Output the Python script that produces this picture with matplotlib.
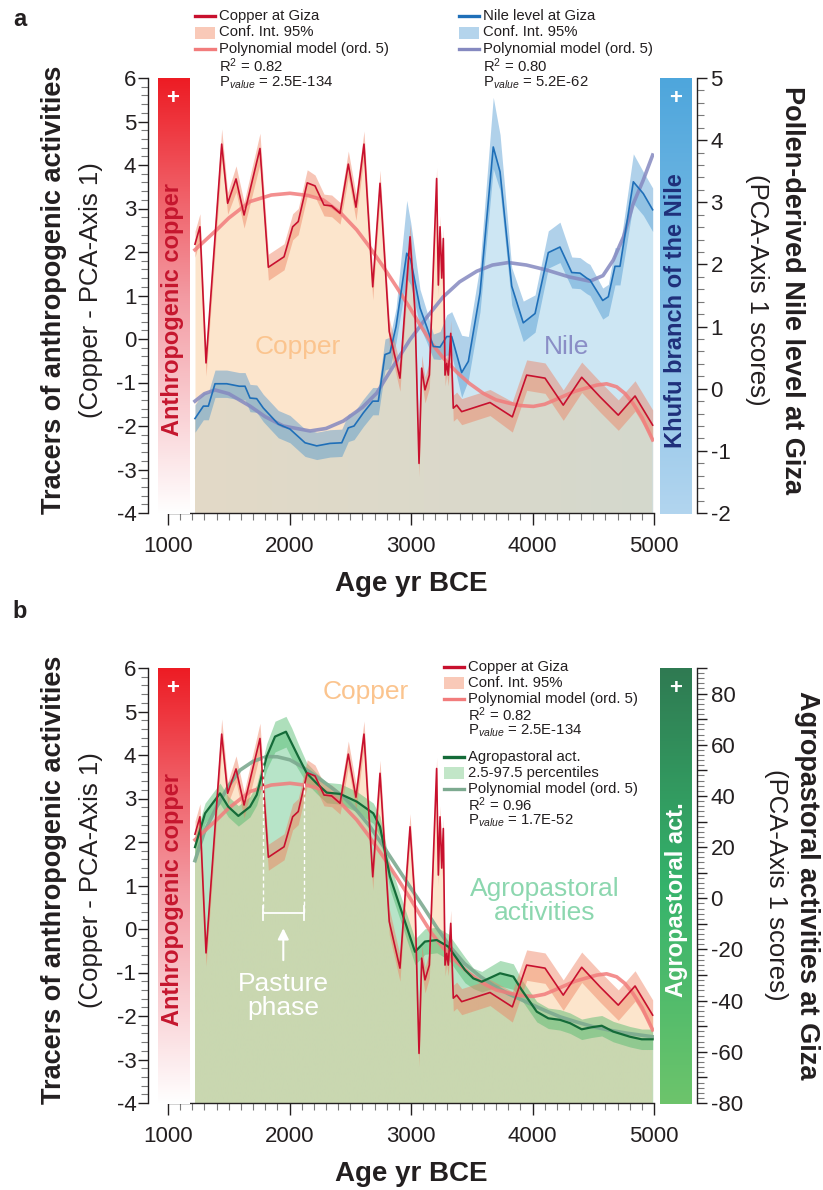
import numpy as np
import matplotlib.pyplot as plt
from matplotlib.lines import Line2D
from matplotlib.patches import Rectangle
from matplotlib.colors import LinearSegmentedColormap
from matplotlib.ticker import MultipleLocator, FuncFormatter

plt.rcParams['font.family'] = ['Liberation Sans', 'DejaVu Sans']
plt.rcParams['mathtext.fontset'] = 'custom'
plt.rcParams['mathtext.rm'] = 'Liberation Sans'
plt.rcParams['mathtext.it'] = 'Liberation Sans:italic'
plt.rcParams['axes.unicode_minus'] = False

# ---- Copper at Giza (left axis, PCA-Axis 1) ----
cu_year = [1222, 1263, 1313, 1442, 1491, 1560, 1626, 1757, 1826, 1955,
           2026, 2072, 2146, 2210, 2284, 2347, 2416, 2484, 2547, 2613,
           2685, 2745, 2821, 2909, 2992, 3033, 3066, 3088, 3115, 3151,
           3211, 3225, 3239, 3253, 3266, 3280, 3294, 3307, 3327, 3348,
           3376, 3417, 3650, 3834, 3952, 4103, 4253, 4405, 4556, 4706,
           4844, 4989]
cu_val = [2.18, 2.58, -0.55, 4.48, 3.12, 3.68, 2.85, 4.38, 1.65, 1.89,
          2.58, 2.70, 3.59, 3.52, 3.08, 3.06, 2.89, 4.02, 3.03, 4.48,
          1.20, 3.58, 0.17, -0.90, 2.35, 0.61, -2.86, -0.67, -1.17, -0.83,
          3.69, 1.24, 2.58, 1.40, 2.31, -0.83, -0.56, -0.83, 0.13, -1.59,
          -1.52, -1.67, -1.46, -1.79, -0.83, -0.90, -1.52, -0.88, -1.33, -1.75,
          -1.31, -1.98]
cu_ci = [0.30, 0.30, 0.30, 0.35, 0.25, 0.30, 0.30, 0.35, 0.30, 0.30,
         0.30, 0.30, 0.30, 0.25, 0.25, 0.25, 0.25, 0.30, 0.30, 0.30,
         0.30, 0.30, 0.30, 0.30, 0.30, 0.30, 0.30, 0.30, 0.30, 0.30,
         0.25, 0.25, 0.25, 0.25, 0.25, 0.25, 0.25, 0.25, 0.30, 0.30,
         0.30, 0.30, 0.30, 0.35, 0.35, 0.35, 0.35, 0.35, 0.35, 0.35,
         0.35, 0.35]
cu_poly_year = [1222, 1300, 1401, 1500, 1675, 1850, 2004, 2150, 2276, 2420,
                2553, 2650, 2772, 2880, 2992, 3080, 3170, 3270, 3376, 3480,
                3595, 3700, 3815, 3900, 4007, 4100, 4185, 4350, 4528, 4610,
                4693, 4760, 4827, 4900, 4989]
cu_poly_val = [2.05, 2.25, 2.51, 2.78, 3.16, 3.31, 3.35, 3.30, 3.20, 2.90,
               2.51, 2.15, 1.66, 1.20, 0.71, 0.30, -0.10, -0.45, -0.76, -1.02,
               -1.25, -1.40, -1.48, -1.53, -1.55, -1.50, -1.40, -1.20, -1.06, -1.03,
               -1.10, -1.25, -1.48, -1.80, -2.32]

# ---- Nile level at Giza (right axis panel a) ----
nile_year = [1222, 1291, 1332, 1387, 1483, 1587, 1634, 1675, 1730, 1784,
             1908, 2004, 2128, 2224, 2333, 2430, 2484, 2531, 2607, 2685,
             2731, 2786, 2827, 2877, 2965, 2998, 3074, 3129, 3184, 3239,
             3294, 3335, 3417, 3472, 3568, 3677, 3733, 3829, 3924, 4021,
             4130, 4226, 4323, 4391, 4446, 4473, 4578, 4624, 4679, 4720,
             4830, 4912, 4989]
nile_val = [-0.48, -0.28, -0.28, 0.08, 0.08, 0.04, 0.04, -0.15, -0.16, -0.31,
            -0.57, -0.65, -0.87, -0.92, -0.88, -0.87, -0.63, -0.60, -0.39, -0.20,
            -0.20, 0.55, 0.58, 1.00, 2.18, 2.07, 1.30, 1.00, 0.68, 0.67,
            0.84, 0.84, 0.26, 0.44, 1.54, 3.89, 3.49, 1.65, 1.06, 1.21,
            2.19, 2.28, 1.87, 1.86, 1.78, 1.75, 1.42, 1.48, 1.97, 1.97,
            3.33, 3.14, 2.88]
nile_lo = [0.22] * 21 + [0.25, 0.25, 0.25, 0.40, 0.40, 0.30, 0.25, 0.20, 0.20,
                         0.30, 0.30, 0.40, 0.30, 0.30, 0.35, 0.30, 0.30, 0.30, 0.30,
                         0.25, 0.25, 0.25, 0.25, 0.25, 0.25, 0.30, 0.30, 0.30, 0.30,
                         0.35, 0.35, 0.35]
nile_hi = [0.22] * 21 + [0.25, 0.25, 0.30, 0.85, 0.60, 0.30, 0.25, 0.20, 0.25,
                         0.35, 0.40, 0.60, 0.40, 0.45, 0.80, 0.60, 0.30, 0.35, 0.30,
                         0.35, 0.40, 0.25, 0.25, 0.25, 0.25, 0.20, 0.20, 0.30, 0.30,
                         0.45, 0.35, 0.35]
nile_poly_year = [1222, 1300, 1387, 1500, 1675, 1800, 1949, 2169, 2300, 2443,
                  2600, 2718, 2850, 2992, 3130, 3266, 3400, 3541, 3670, 3801,
                  3950, 4117, 4300, 4473, 4580, 4665, 4750, 4830, 4910, 4989]
nile_poly_val = [-0.20, -0.08, -0.02, -0.08, -0.28, -0.45, -0.60, -0.68, -0.64, -0.52,
                 -0.30, -0.07, 0.35, 0.79, 1.15, 1.48, 1.72, 1.89, 1.99, 2.03,
                 1.99, 1.91, 1.80, 1.73, 1.82, 2.07, 2.45, 2.98, 3.35, 3.76]

# ---- Agropastoral activities (right axis panel b) ----
agro_year = [1222, 1305, 1428, 1496, 1579, 1675, 1730, 1812, 1881, 1971,
             2018, 2072, 2142, 2224, 2306, 2416, 2553, 2690, 2745, 2827,
             2937, 3033, 3115, 3212, 3307, 3444, 3513, 3582, 3733, 3842,
             3911, 4035, 4130, 4226, 4309, 4405, 4487, 4570, 4665, 4802,
             4899, 4989]
agro_val = [20.0, 33.2, 41.0, 35.8, 32.2, 35.8, 40.4, 55.4, 63.2, 65.1,
            60.6, 55.4, 48.9, 44.9, 41.3, 40.8, 37.8, 33.2, 28.0, 8.5,
            -7.2, -20.9, -16.9, -16.3, -18.9, -28.0, -31.3, -32.6, -29.3, -30.6,
            -35.8, -44.3, -46.9, -47.5, -48.8, -51.2, -50.4, -49.8, -52.1, -54.1,
            -55.1, -55.1]
agro_pct = [4, 4, 4, 4, 4, 4, 4, 5, 6, 6,
            6, 5, 4, 4, 4, 4, 4, 4, 4, 5,
            5, 5, 5, 5, 5, 5, 4, 4, 5, 5,
            4, 4, 4, 4, 4, 4, 4, 4, 4, 4,
            4, 4]
agro_poly_year = [1222, 1300, 1401, 1500, 1593, 1700, 1812, 1900, 2004, 2100,
                  2224, 2330, 2443, 2550, 2663, 2770, 2882, 2990, 3101, 3210,
                  3321, 3440, 3568, 3677, 3800, 3952, 4100, 4226, 4360, 4500,
                  4640, 4775, 4880, 4989]
agro_poly_val = [14.7, 26.0, 35.8, 44.0, 50.1, 53.5, 55.4, 55.3, 54.1, 51.5,
                 47.5, 43.8, 39.7, 34.5, 28.0, 20.5, 12.4, 4.6, -3.3, -11.3,
                 -18.9, -25.5, -30.5, -34.0, -37.3, -40.6, -43.8, -46.3, -48.3, -50.2,
                 -51.6, -52.7, -53.4, -54.1]

# colours
INK = '#231f20'
PEACH = '#fce5cc'
SKY = '#cde6f3'
MINT = '#b7e4c8'
OLIVE = '#c9d7b0'
CU_LINE = '#c8102e'
CU_POLY = '#f27c7c'
NILE_LINE = '#1f6fb8'
NILE_POLY = '#8589c0'
AG_LINE = '#146b38'
AG_POLY = '#7daa90'

W, H = 823, 1190
fig = plt.figure(figsize=(W / 100, H / 100), dpi=100)


def box(x0, y0, x1, y1):
    return [x0 / W, 1 - y1 / H, (x1 - x0) / W, (y1 - y0) / H]


def txt(x, y, s, **kw):
    kw.setdefault('ha', 'center')
    kw.setdefault('va', 'center')
    kw.setdefault('color', INK)
    return fig.text(x / W, 1 - y / H, s, **kw)


def nile_left(v):
    return -4 + (np.asarray(v) + 2) * 10 / 7


def agro_left(v):
    return -4 + (np.asarray(v) + 80) * 10 / 170


def panel_axes(top, rlim, rmajor, rminor, rfmt=None):
    ax = fig.add_axes(box(168, top, 654, top + 435))
    ax.set_xlim(1000, 5000)
    ax.set_ylim(-4, 6)
    ax.patch.set_visible(False)
    ax.spines['top'].set_visible(False)
    ax.spines['right'].set_visible(False)
    ax.spines['left'].set_position(('outward', 14.4))
    for s in ['left', 'bottom']:
        ax.spines[s].set_linewidth(1.0)
        ax.spines[s].set_color(INK)
    ax.xaxis.set_major_locator(MultipleLocator(1000))
    ax.xaxis.set_minor_locator(MultipleLocator(100))
    ax.yaxis.set_major_locator(MultipleLocator(1))
    ax.yaxis.set_minor_locator(MultipleLocator(0.2))
    ax.tick_params(which='major', direction='out', width=1, color=INK, labelcolor=INK)
    ax.tick_params(axis='y', which='major', length=7.2, pad=1.2, labelsize=16)
    ax.tick_params(axis='x', which='major', length=8.6, pad=8, labelsize=16)
    ax.tick_params(which='minor', direction='out', length=5, width=0.8, color='#7a7a7a')

    ax2 = ax.twinx()
    ax2.set_ylim(*rlim)
    ax2.patch.set_visible(False)
    for s in ['left', 'top', 'bottom']:
        ax2.spines[s].set_visible(False)
    ax2.spines['right'].set_position(('outward', 31))
    ax2.spines['right'].set_linewidth(1.0)
    ax2.spines['right'].set_color(INK)
    ax2.yaxis.set_major_locator(MultipleLocator(rmajor))
    ax2.yaxis.set_minor_locator(MultipleLocator(rminor))
    if rfmt is not None:
        ax2.yaxis.set_major_formatter(FuncFormatter(rfmt))
    ax2.tick_params(which='major', direction='out', length=7.2, width=1, pad=2.5,
                    labelsize=16, color=INK, labelcolor=INK)
    ax2.tick_params(which='minor', direction='out', length=5, width=0.8, color='#7a7a7a')
    return ax, ax2


def overlap_fills(ax, xs, ys_a, ys_b, col_a, col_b, col_ov):
    xg = np.linspace(xs[0], xs[1], 1600)
    ga = np.interp(xg, ys_a[0], ys_a[1])
    gb = np.interp(xg, ys_b[0], ys_b[1])
    ax.fill_between(xg, -4, ga, color=col_a, lw=0, zorder=1)
    ax.fill_between(xg, -4, gb, color=col_b, lw=0, zorder=1.1)
    ov = ax.fill_between(xg, -4, np.minimum(ga, gb), facecolor='none', lw=0, zorder=1.2)
    cmap = LinearSegmentedColormap.from_list('ov', col_ov)
    im = ax.imshow(np.linspace(0, 1, 256).reshape(1, -1), cmap=cmap, aspect='auto',
                   extent=(xg[0], xg[-1], -4, 6), zorder=1.3)
    im.set_clip_path(ov.get_paths()[0], transform=ax.transData)
    ax.set_xlim(1000, 5000)
    ax.set_ylim(-4, 6)


def grad_bar(x0, y0, x1, y1, colors):
    bx = fig.add_axes(box(x0, y0, x1, y1))
    cmap = LinearSegmentedColormap.from_list('bar', colors)
    bx.imshow(np.linspace(0, 1, 256).reshape(-1, 1), cmap=cmap, aspect='auto',
              extent=(0, 1, 0, 1), origin='upper')
    bx.set_axis_off()


def legend_block(x, y, items, dy):
    for i, (kind, color, label) in enumerate(items):
        yy = y + i * dy
        if kind == 'line':
            fig.add_artist(Line2D([x / W, (x + 20) / W], [1 - yy / H] * 2, color=color, lw=2.4))
        elif kind == 'patch':
            fig.add_artist(Rectangle((x / W, 1 - (yy + 6) / H), 20 / W, 12 / H,
                                     facecolor=color, lw=0))
        txt(x + 24, yy, label, ha='left', fontsize=10.7)


cu_year = np.array(cu_year); cu_val = np.array(cu_val); cu_ci = np.array(cu_ci)
nile_year = np.array(nile_year); nile_val = np.array(nile_val)
nile_lo = np.array(nile_lo); nile_hi = np.array(nile_hi)
agro_year = np.array(agro_year); agro_val = np.array(agro_val); agro_pct = np.array(agro_pct)

RED_BAR = ['#ed1c24', '#f39aa2', '#ffffff']

# ================= panel a =================
axA, axA2 = panel_axes(78, (-2, 5), 1, 0.2)
overlap_fills(axA, (cu_year[0], cu_year[-1]), (cu_year, cu_val), (nile_year, nile_left(nile_val)),
              PEACH, SKY, ['#e3dac7', '#d4d8cd'])
axA.fill_between(nile_year, nile_left(nile_val - nile_lo), nile_left(nile_val + nile_hi),
                 color='#3a8ccc', alpha=0.4, lw=0, zorder=3)
axA.fill_between(cu_year, cu_val - cu_ci, cu_val + cu_ci, color='#ee7f5f', alpha=0.45, lw=0, zorder=3.1)
axA.plot(nile_poly_year, nile_left(nile_poly_val), color=NILE_POLY, lw=2.6, alpha=0.85, zorder=4)
axA.plot(cu_poly_year, cu_poly_val, color=CU_POLY, lw=2.6, alpha=0.85, zorder=4.1)
axA.plot(nile_year, nile_left(nile_val), color=NILE_LINE, lw=1.2, zorder=5)
axA.plot(cu_year, cu_val, color=CU_LINE, lw=1.2, zorder=6)
axA.text(2070, -0.18, 'Copper', fontsize=19, color='#fbc48e', ha='center', va='center', zorder=7)
axA.text(4284, -0.18, 'Nile', fontsize=19, color='#8a8ec6', ha='center', va='center', zorder=7)

grad_bar(158, 78, 190, 514, RED_BAR)
grad_bar(660, 78, 692, 514, ['#4ea6dc', '#b2d5ef'])
txt(173, 99, '+', fontsize=16, fontweight='bold', color='white')
txt(676, 99, '+', fontsize=16, fontweight='bold', color='white')
txt(173, 310, 'Anthropogenic copper', rotation=90, fontsize=17, fontweight='bold', color='#c5162e')
txt(676, 311, 'Khufu branch of the Nile', rotation=90, fontsize=17, fontweight='bold', color='#1f2f7a')

legend_block(195, 15.8, [('line', CU_LINE, 'Copper at Giza'),
                         ('patch', '#f9c9b8', 'Conf. Int. 95%'),
                         ('line', CU_POLY, 'Polynomial model (ord. 5)'),
                         (None, None, r'R$^2$ = 0.82'),
                         (None, None, r'P$_{value}$ = 2.5E-134')], 16.7)
legend_block(459, 15.8, [('line', NILE_LINE, 'Nile level at Giza'),
                         ('patch', '#b4d4ec', 'Conf. Int. 95%'),
                         ('line', NILE_POLY, 'Polynomial model (ord. 5)'),
                         (None, None, r'R$^2$ = 0.80'),
                         (None, None, r'P$_{value}$ = 5.2E-62')], 16.7)

txt(20, 20, 'a', fontsize=17, fontweight='bold')
txt(54, 290, 'Tracers of anthropogenic activities', rotation=90, fontsize=19.5, fontweight='bold')
txt(91, 290, '(Copper - PCA-Axis 1)', rotation=90, fontsize=18.5)
txt(792, 290, 'Pollen-derived Nile level at Giza', rotation=270, fontsize=19.5, fontweight='bold')
txt(757, 290, '(PCA-Axis 1 scores)', rotation=270, fontsize=18.5)
txt(411, 584, 'Age yr BCE', fontsize=20, fontweight='bold')

# ================= panel b =================
axB, axB2 = panel_axes(668, (-80, 90), 10, 2,
                       lambda v, p: f'{v:.0f}' if round(v) % 20 == 0 else '')
overlap_fills(axB, (cu_year[0], cu_year[-1]), (cu_year, cu_val), (agro_year, agro_left(agro_val)),
              PEACH, MINT, [OLIVE, OLIVE])
axB.fill_between(agro_year, agro_left(agro_val - agro_pct), agro_left(agro_val + agro_pct),
                 color='#4cb86a', alpha=0.45, lw=0, zorder=3)
axB.fill_between(cu_year, cu_val - cu_ci, cu_val + cu_ci, color='#ee7f5f', alpha=0.45, lw=0, zorder=3.1)
axB.plot(agro_poly_year, agro_left(agro_poly_val), color=AG_POLY, lw=2.6, alpha=0.9, zorder=4)
axB.plot(cu_poly_year, cu_poly_val, color=CU_POLY, lw=2.6, alpha=0.85, zorder=4.1)
axB.plot(agro_year, agro_left(agro_val), color=AG_LINE, lw=1.6, zorder=5)
axB.plot(cu_year, cu_val, color=CU_LINE, lw=1.2, zorder=6)

# pasture phase marker
dash = dict(color='white', lw=1.0, ls=(0, (3, 2)), zorder=7)
axB.plot([1779, 1779], [4.1, 0.37], **dash)
axB.plot([2119, 2119], [3.35, 0.37], **dash)
axB.plot([1779, 2119], [0.37, 0.37], color='white', lw=1.3, zorder=7)
axB.plot([1779, 1779], [0.52, 0.2], color='white', lw=1.3, zorder=7)
axB.plot([2119, 2119], [0.52, 0.2], color='white', lw=1.3, zorder=7)
axB.annotate('', xy=(1949, 0.08), xytext=(1949, -0.78),
             arrowprops=dict(arrowstyle='-|>', color='white', lw=1.5, mutation_scale=16), zorder=7)
axB.text(1947, -1.53, 'Pasture\nphase', fontsize=19, color='white', ha='center', va='center',
         linespacing=1.0, zorder=7)
axB.text(2630, 5.44, 'Copper', fontsize=19, color='#fbc48e', ha='center', va='center', zorder=7)
axB.text(4103, 0.64, 'Agropastoral\nactivities', fontsize=19, color='#8cd7af', ha='center',
         va='center', linespacing=1.0, zorder=7)

grad_bar(158, 668, 190, 1104, RED_BAR)
grad_bar(660, 668, 692, 1104, ['#2f7a52', '#35b36b', '#6dc46c'])
txt(173, 689, '+', fontsize=16, fontweight='bold', color='white')
txt(676, 689, '+', fontsize=16, fontweight='bold', color='white')
txt(173, 900, 'Anthropogenic copper', rotation=90, fontsize=17, fontweight='bold', color='#c5162e')
txt(676, 900, 'Agropastoral act.', rotation=90, fontsize=17, fontweight='bold', color='white')

legend_block(444, 667, [('line', CU_LINE, 'Copper at Giza'),
                        ('patch', '#f9c9b8', 'Conf. Int. 95%'),
                        ('line', CU_POLY, 'Polynomial model (ord. 5)'),
                        (None, None, r'R$^2$ = 0.82'),
                        (None, None, r'P$_{value}$ = 2.5E-134')], 16)
legend_block(444, 757, [('line', AG_LINE, 'Agropastoral act.'),
                        ('patch', '#c2e6c8', '2.5-97.5 percentiles'),
                        ('line', AG_POLY, 'Polynomial model (ord. 5)'),
                        (None, None, r'R$^2$ = 0.96'),
                        (None, None, r'P$_{value}$ = 1.7E-52')], 16)

txt(20, 611, 'b', fontsize=17, fontweight='bold')
txt(54, 880, 'Tracers of anthropogenic activities', rotation=90, fontsize=19.5, fontweight='bold')
txt(91, 880, '(Copper - PCA-Axis 1)', rotation=90, fontsize=18.5)
txt(807, 885, 'Agropastoral activities at Giza', rotation=270, fontsize=19.5, fontweight='bold')
txt(776, 885, '(PCA-Axis 1 scores)', rotation=270, fontsize=18.5)
txt(411, 1174, 'Age yr BCE', fontsize=20, fontweight='bold')

fig.savefig('out.png', dpi=100)
